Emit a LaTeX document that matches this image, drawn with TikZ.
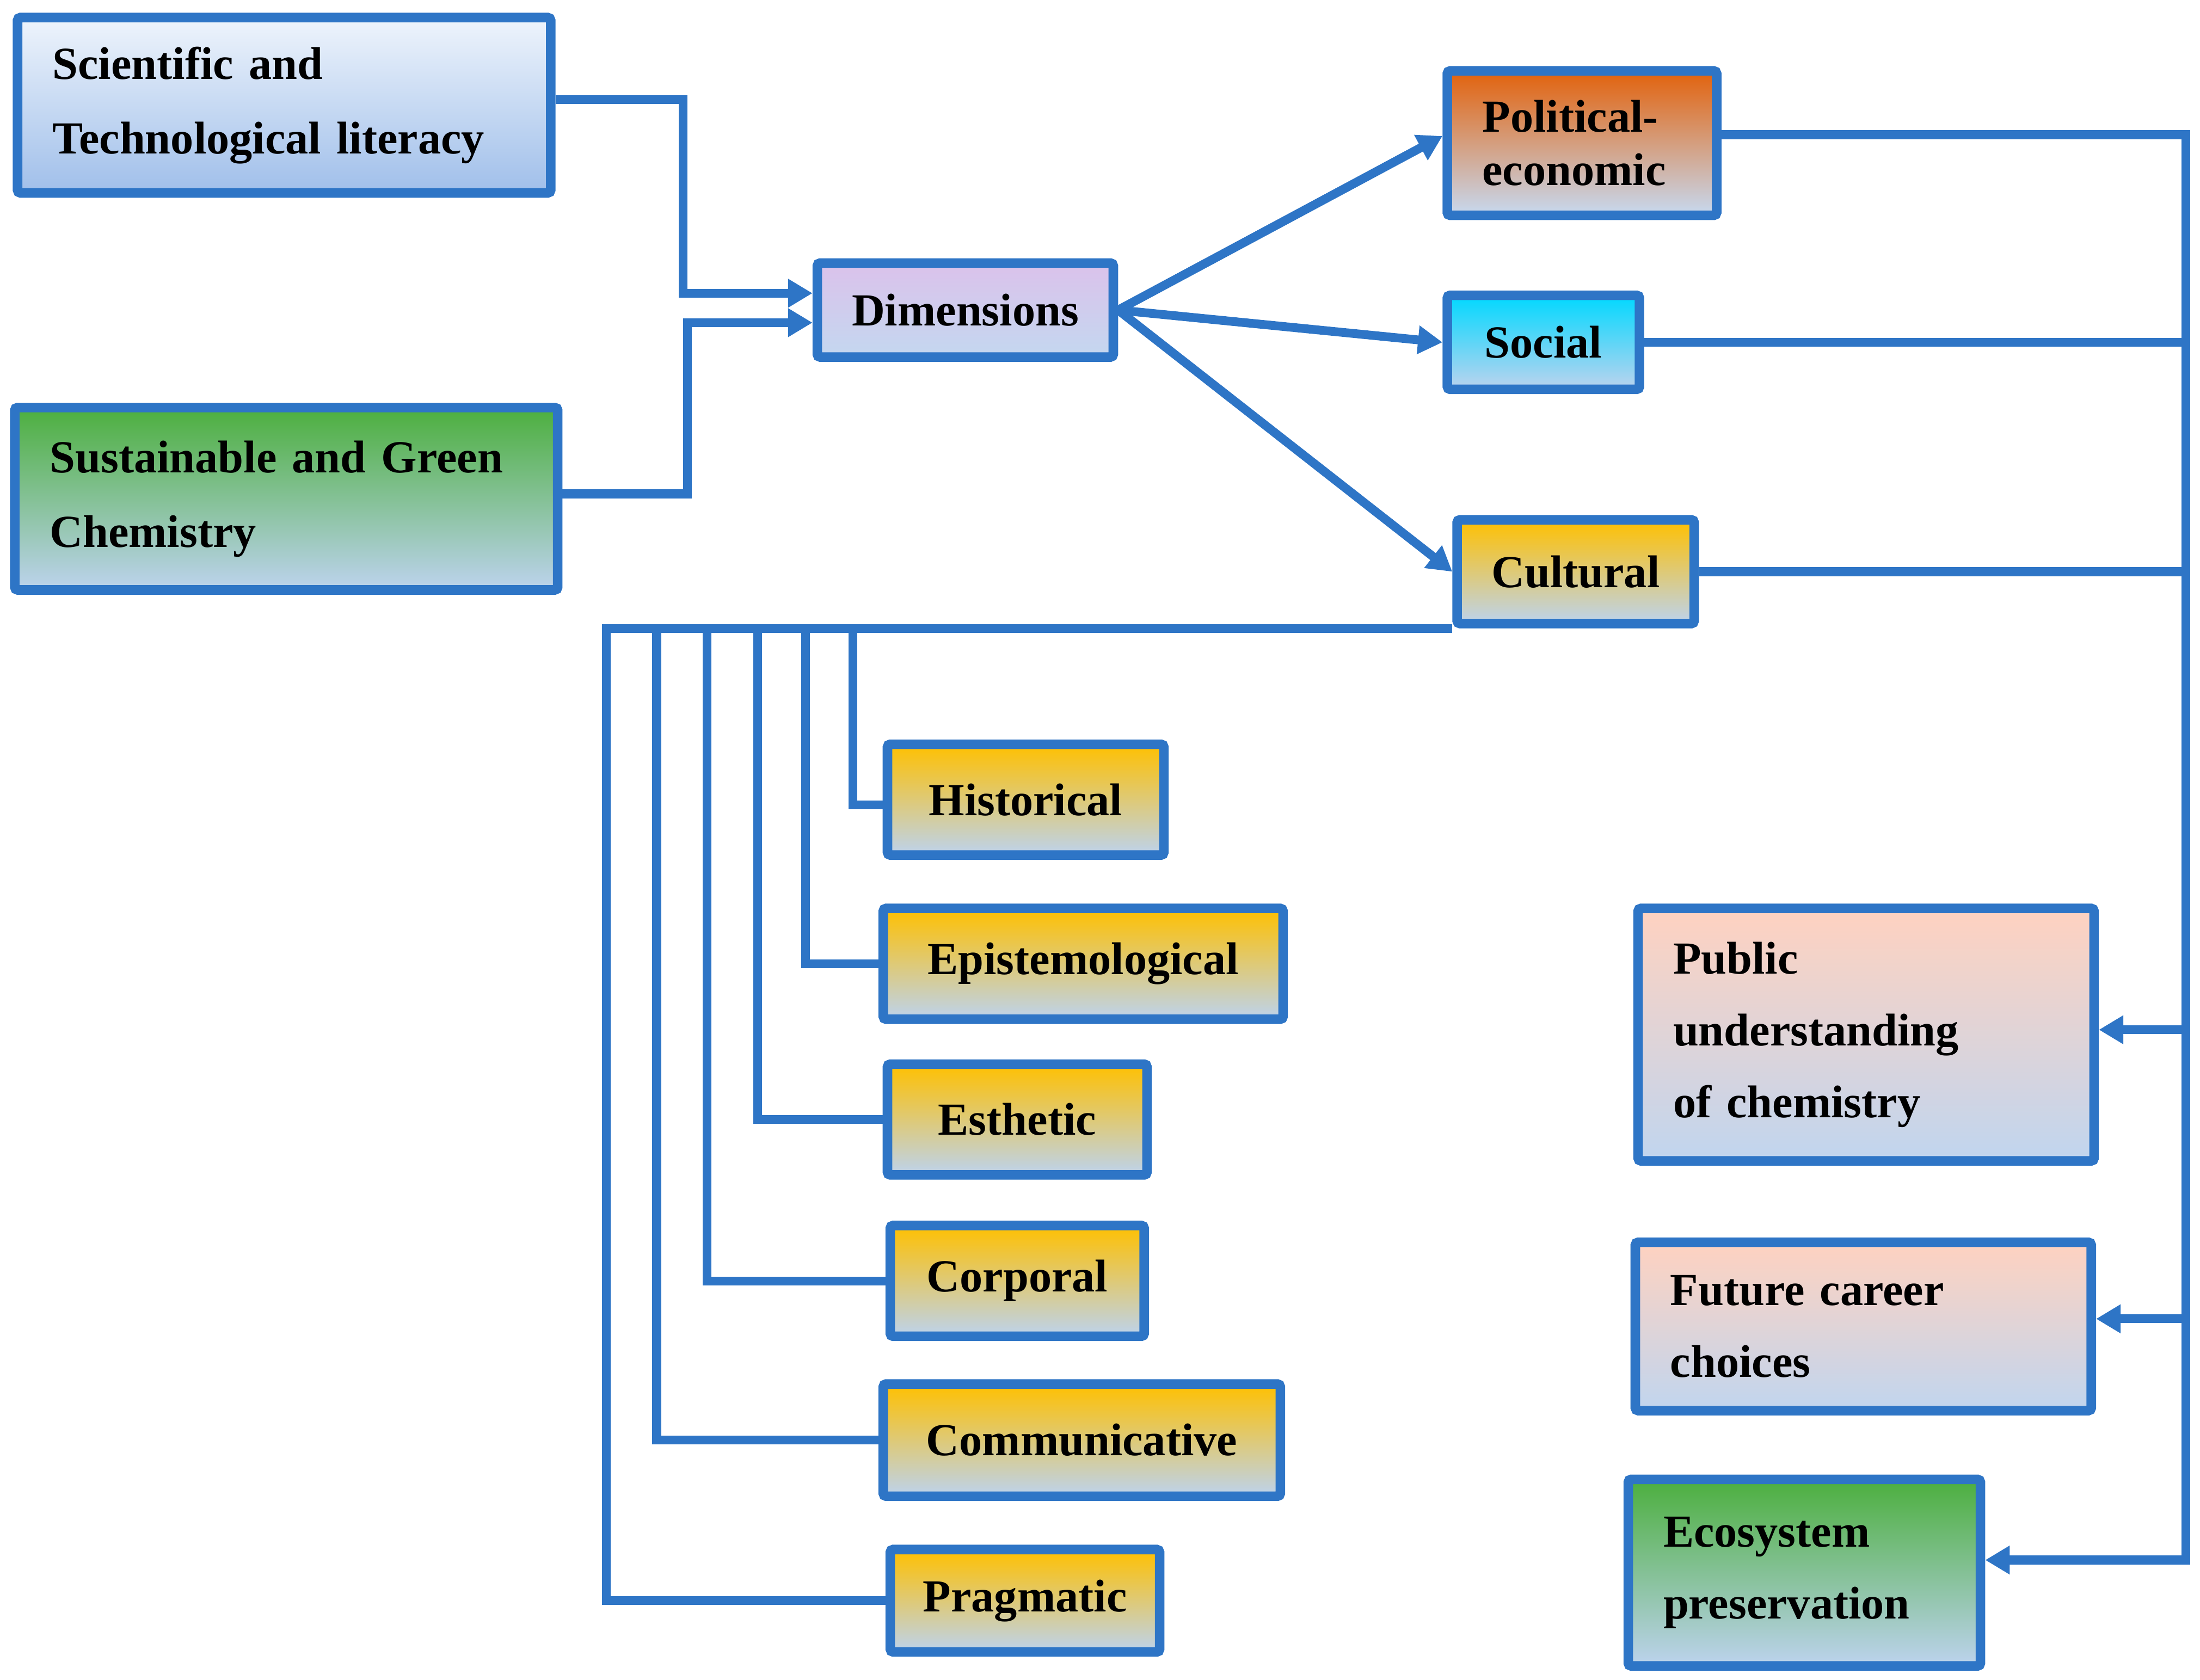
\documentclass[tikz,border=0pt]{standalone}
\usepackage{fontspec}
\setmainfont{Liberation Serif}
\usetikzlibrary{arrows.meta}
\definecolor{lineblue}{HTML}{2E75C6}
\definecolor{botblue}{HTML}{BDD3EE}
\definecolor{sciTop}{HTML}{EEF4FC}
\definecolor{sciBot}{HTML}{A0BFEA}
\definecolor{greenTop}{HTML}{4CAF3E}
\definecolor{dimTop}{HTML}{DBC2EB}
\definecolor{polTop}{HTML}{E2620C}
\definecolor{socTop}{HTML}{00D8FF}
\definecolor{culTop}{HTML}{FFC000}
\definecolor{peachTop}{HTML}{FFD2C0}
\tikzset{
  sz/.style 2 args={minimum width={#1*0.02578cm}, minimum height={#2*0.02578cm}},
  tw/.style={text width={#1*0.02578cm}},
  box/.style={draw=lineblue, line width=5pt, rounded corners=1.5pt, text=black,
    inner ysep=0pt, inner xsep={25*0.02578cm},
    font=\bfseries\fontsize{24}{38}\selectfont},
  lbox/.style={box, align=left},
  cbox/.style={box, align=center},
  sci/.style={top color=sciTop, bottom color=sciBot},
  grn/.style={top color=greenTop, bottom color=botblue},
  dimc/.style={top color=dimTop, bottom color=botblue!90!white},
  polc/.style={top color=polTop, bottom color=botblue!85!white},
  socc/.style={top color=socTop, bottom color=botblue},
  culc/.style={top color=culTop, bottom color=botblue},
  peach/.style={top color=peachTop, bottom color=botblue!95!white},
  conn/.style={draw=lineblue, line width=4.6pt},
  arr/.style={conn, -{Triangle[length=0.45cm,width=0.5cm]}},
}
\begin{document}
\begin{tikzpicture}[x=0.02578cm,y=-0.02578cm]
\useasboundingbox[fill=white] (0,0) rectangle (1568,1197.5);

% left inputs
\node[lbox, sci, sz={380}{125}, tw={330}, font=\bfseries\fontsize{24}{39}\selectfont] (sci) at (202.5,75) {Scientific and\\Technological literacy};
\node[lbox, grn, sz={387}{130}, tw={337}, font=\bfseries\fontsize{24}{39}\selectfont] (sus) at (204,355.5) {Sustainable and Green\\Chemistry};

% dimensions
\node[cbox, dimc, sz={211}{67}, inner xsep=0pt] (dim) at (688,221) {Dimensions};

% three dimensions
\node[lbox, polc, sz={192}{103}, tw={142}, font=\bfseries\fontsize{24}{28}\selectfont] (pol) at (1127.5,102) {Political-\\economic};
\node[cbox, socc, sz={137}{67}, inner xsep=0pt] (soc) at (1100,244) {Social};
\node[cbox, culc, sz={169}{74}, inner xsep=0pt] (cul) at (1123,407.5) {Cultural};

% cultural sub-dimensions
\node[cbox, culc, sz={197}{79}, inner xsep=0pt] (his) at (731,570) {Historical};
\node[cbox, culc, sz={285}{79}, inner xsep=0pt] (epi) at (772,687) {Epistemological};
\node[cbox, culc, sz={185}{79}, inner xsep=0pt] (est) at (725,798) {Esthetic};
\node[cbox, culc, sz={181}{79}, inner xsep=0pt] (cor) at (725,913) {Corporal};
\node[cbox, culc, sz={283}{80}, inner xsep=0pt] (com) at (771,1026.5) {Communicative};
\node[cbox, culc, sz={192}{73}, inner xsep=0pt] (pra) at (730.5,1141) {Pragmatic};

% outcomes
\node[lbox, peach, sz={325}{180}, tw={275}, font=\bfseries\fontsize{24}{37.5}\selectfont] (pub) at (1330,737.5) {Public\\understanding\\of chemistry};
\node[lbox, peach, sz={325}{120}, tw={275}, font=\bfseries\fontsize{24}{37.5}\selectfont] (fut) at (1328,945.5) {Future career\\choices};
\node[lbox, grn, sz={251}{133}, tw={201}, font=\bfseries\fontsize{24}{37.5}\selectfont] (eco) at (1286,1121) {Ecosystem\\preservation};

% inputs to dimensions
\coordinate (jA) at (487,209);
\coordinate (jB) at (490,230);
\draw[arr] ([yshift=0.1cm]sci.east) -| (jA) -- (dim.west |- jA);
\draw[arr] ([yshift=0.09cm]sus.east) -| (jB) -- (dim.west |- jB);

% fan out
\draw[arr] (dim.east) -- ([yshift=0.13cm]pol.west);
\draw[arr] (dim.east) -- (soc.west);
\draw[arr] (dim.east) -- (cul.west);

% right bus
\coordinate (busTop) at (1558,96);
\coordinate (busBot) at (1558,1112);
\draw[arr] (pol.east |- busTop) -- (busTop) -- (busBot) -- (eco.east |- busBot);
\draw[conn] (soc.east) -- (soc.east -| busTop);
\draw[conn] (cul.east) -- (cul.east -| busTop);
\draw[arr] ([yshift=0.09cm]pub.east -| busTop) -- ([yshift=0.09cm]pub.east);
\draw[arr] ([yshift=0.14cm]fut.east -| busTop) -- ([yshift=0.14cm]fut.east);

% cultural branches
\coordinate (t1) at (432,444.5);
\coordinate (t2) at (468,444.5);
\coordinate (t3) at (504,444.5);
\coordinate (t4) at (540,444.5);
\coordinate (t5) at (574,444.5);
\coordinate (t6) at (608,444.5);
\draw[conn] (cul.south west) -- (cul.south west -| t1) |- (pra.west);
\draw[conn] (t2 |- cul.south west) |- (com.west);
\draw[conn] (t3 |- cul.south west) |- (cor.west);
\draw[conn] (t4 |- cul.south west) |- (est.west);
\draw[conn] (t5 |- cul.south west) |- (epi.west);
\draw[conn] (t6 |- cul.south west) |- ([yshift=-0.1cm]his.west);
\end{tikzpicture}
\end{document}
